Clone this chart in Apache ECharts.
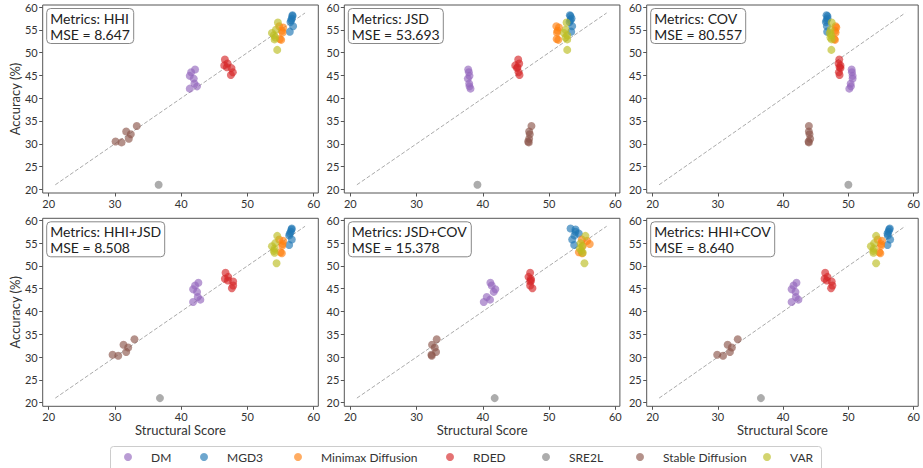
<!DOCTYPE html>
<html>
<head>
<meta charset="utf-8">
<script src="https://cdn.jsdelivr.net/npm/echarts@6/dist/echarts.min.js"></script>
<style>
  html, body { margin: 0; padding: 0; background: #fff; }
  #main { width: 923px; height: 468px; }
</style>
</head>
<body>
<div id="main"></div>
<script>
var methods = ["DM", "MGD3", "Minimax Diffusion", "RDED", "SRE2L", "Stable Diffusion", "VAR"];

// accuracy (%) per method, same in every panel
var accDM = [46.3, 45.7, 44.9, 44.3, 43.2, 42.6, 42.1];
var accMGD3 = [58.2, 58.0, 57.5, 57.1, 56.7, 55.8, 54.6];
var accMinimax = [55.8, 55.5, 54.8, 54.4, 53.0, 52.8];
var accRDED = [48.5, 47.6, 47.2, 46.8, 46.6, 45.7, 45.1];
var accSRE2L = [21.0];
var accSD = [33.9, 32.7, 32.1, 31.1, 30.5, 30.3];
var accVAR = [56.6, 55.0, 54.3, 53.8, 53.3, 52.9, 50.6];
var accuracy = [accDM, accMGD3, accMinimax, accRDED, accSRE2L, accSD, accVAR];

// structural score per panel, one list per method (same order as methods)
var scoreHHI = [
  [42.1, 41.5, 41.3, 41.9, 42.0, 42.4, 41.3],
  [56.8, 56.8, 56.7, 56.6, 56.5, 56.9, 56.4],
  [54.8, 55.4, 55.2, 55.3, 54.9, 55.1],
  [46.6, 47.0, 46.5, 46.9, 47.6, 47.8, 47.5],
  [36.6],
  [33.3, 31.7, 32.4, 32.1, 30.1, 31.0],
  [54.6, 54.3, 53.7, 54.0, 54.2, 54.1, 54.5]
];
var scoreJSD = [
  [37.8, 37.9, 38.0, 37.75, 37.95, 38.0, 38.15],
  [53.15, 53.25, 53.4, 53.25, 53.1, 53.5, 53.35],
  [51.1, 51.5, 51.3, 51.2, 51.15, 51.4],
  [45.35, 45.5, 44.9, 45.25, 45.15, 45.4, 45.55],
  [39.2],
  [47.35, 47.0, 47.1, 47.0, 46.85, 46.95],
  [52.65, 52.5, 52.25, 52.75, 52.5, 52.75, 52.75]
];
var scoreCOV = [
  [50.5, 50.55, 50.65, 50.65, 50.35, 50.4, 50.15],
  [46.65, 46.8, 46.8, 46.65, 46.55, 46.7, 46.75],
  [48.05, 48.15, 47.95, 48.05, 47.85, 47.95],
  [48.6, 48.5, 48.8, 48.65, 48.8, 48.55, 48.65],
  [50.0],
  [43.95, 43.95, 44.05, 44.15, 43.9, 43.95],
  [47.45, 47.3, 47.15, 47.4, 47.25, 47.45, 47.4]
];
var scoreHHIJSD = [
  [42.6, 42.1, 41.8, 42.4, 42.5, 42.9, 41.8],
  [56.7, 56.65, 56.55, 56.4, 56.3, 56.7, 56.3],
  [54.8, 55.4, 55.3, 55.25, 55.0, 55.2],
  [46.7, 47.1, 46.6, 47.05, 47.85, 47.85, 47.65],
  [36.8],
  [32.95, 31.3, 32.0, 31.7, 29.65, 30.5],
  [54.5, 54.2, 53.7, 54.1, 54.0, 54.1, 54.4]
];
var scoreJSDCOV = [
  [41.15, 41.35, 41.9, 41.65, 40.6, 41.1, 40.15],
  [53.25, 54.0, 54.0, 54.5, 53.85, 53.5, 53.8],
  [54.95, 55.75, 56.15, 55.1, 54.5, 55.0],
  [47.15, 46.9, 47.25, 47.3, 47.15, 47.15, 47.5],
  [41.8],
  [33.05, 32.35, 32.75, 32.95, 32.25, 32.3],
  [55.5, 54.75, 55.0, 54.65, 54.9, 55.1, 55.35]
];
var scoreHHICOV = [
  [42.05, 41.6, 41.3, 41.9, 41.95, 42.35, 41.3],
  [56.35, 56.25, 56.15, 56.0, 56.05, 56.4, 56.0],
  [54.5, 55.15, 55.0, 55.0, 54.75, 54.9],
  [46.45, 46.8, 46.35, 46.7, 47.45, 47.55, 47.35],
  [36.6],
  [33.05, 31.5, 32.15, 31.85, 29.9, 30.8],
  [54.25, 53.95, 53.45, 53.9, 53.8, 53.85, 54.25]
];
var panelScores = [scoreHHI, scoreJSD, scoreCOV, scoreHHIJSD, scoreJSDCOV, scoreHHICOV];
var panelMetrics = ["HHI", "JSD", "COV", "HHI+JSD", "JSD+COV", "HHI+COV"];
var panelMSE = ["8.647", "53.693", "80.557", "8.508", "15.378", "8.640"];
var diagonal = [21, 58.7];
var xTicks = [20, 30, 40, 50, 60];
var yTicks = [20, 25, 30, 35, 40, 45, 50, 55, 60];

var colors = ["#9467bd", "#1f77b4", "#ff7f0e", "#d62728", "#7f7f7f", "#8c564b", "#bcbd22"];
var font = "Lato";
var lefts = [42.7, 344.3, 646.7];
var tops = [5, 218.3];
var gw = 275.6, gh = 188;
var legendLefts = [124, 200, 294, 446, 542, 636, 763];

var chart = echarts.init(document.getElementById("main"), null, { renderer: "svg" });

var grids = [], xAxes = [], yAxes = [], titles = [], series = [], legends = [];
for (var p = 0; p < 6; p++) {
  var col = p % 3, row = Math.floor(p / 3);
  grids.push({
    left: lefts[col], top: tops[row], width: gw, height: gh,
    show: true, borderColor: "#555", borderWidth: 1, backgroundColor: "transparent"
  });
  xAxes.push({
    type: "value", gridIndex: p, min: 19.1, max: 60.7,
    name: row === 1 ? "Structural Score" : "",
    nameLocation: "middle", nameGap: 15,
    nameTextStyle: { fontFamily: font, fontSize: 13, color: "#333" },
    axisLine: { show: false },
    axisTick: { show: true, length: 3.5, customValues: xTicks, lineStyle: { color: "#555" } },
    axisLabel: { customValues: xTicks, margin: 5, fontFamily: font, fontSize: 11, color: "#333" },
    splitLine: { show: false }
  });
  yAxes.push({
    type: "value", gridIndex: p, min: 19.2, max: 60.45,
    name: col === 0 ? "Accuracy (%)" : "",
    nameLocation: "middle", nameGap: 18, nameRotate: 90,
    nameTextStyle: { fontFamily: font, fontSize: 13, color: "#333" },
    axisLine: { show: false },
    axisTick: { show: true, length: 3.5, customValues: yTicks, lineStyle: { color: "#555" } },
    axisLabel: { customValues: yTicks, margin: 5, fontFamily: font, fontSize: 11, color: "#333" },
    splitLine: { show: false }
  });
  titles.push({
    text: "Metrics: " + panelMetrics[p] + "\nMSE = " + panelMSE[p],
    left: lefts[col] + 3.5, top: tops[row] + 3,
    padding: [2, 4, 2, 4],
    backgroundColor: "#fff", borderColor: "#888", borderWidth: 1, borderRadius: 4,
    textStyle: { fontFamily: font, fontSize: 14, fontWeight: "normal", color: "#222", lineHeight: 16 }
  });
  series.push({
    type: "line", xAxisIndex: p, yAxisIndex: p, silent: true, symbol: "none", z: 1,
    data: [[diagonal[0], diagonal[0]], [diagonal[1], diagonal[1]]],
    lineStyle: { color: "#aaa", width: 1, type: [4, 2] }
  });
  for (var m = 0; m < methods.length; m++) {
    var pts = [];
    for (var k = 0; k < accuracy[m].length; k++) {
      pts.push([panelScores[p][m][k], accuracy[m][k]]);
    }
    series.push({
      name: methods[m], type: "scatter", xAxisIndex: p, yAxisIndex: p,
      symbolSize: 8, z: 2, data: pts,
      itemStyle: { color: colors[m], opacity: 0.65 }
    });
  }
}

// one legend per entry so each sits where the reference has it
for (var i = 0; i < methods.length; i++) {
  legends.push({
    data: [methods[i]], left: legendLefts[i], top: 451,
    icon: "circle", itemWidth: 8, itemHeight: 8, itemGap: 0, padding: 0,
    formatter: "{g|}{n|{name}}",
    textStyle: {
      fontFamily: font, fontSize: 12, color: "#333",
      rich: { g: { width: 14 }, n: { fontFamily: font, fontSize: 12, color: "#333" } }
    }
  });
}

chart.setOption({
  animation: false,
  color: colors,
  title: titles,
  grid: grids,
  xAxis: xAxes,
  yAxis: yAxes,
  legend: legends,
  graphic: [{
    type: "rect", silent: true, z: -1,
    shape: { x: 110.5, y: 446.5, width: 711, height: 30, r: 3 },
    style: { fill: "#fff", stroke: "#ccc", lineWidth: 1 }
  }],
  series: series
});
</script>
</body>
</html>
